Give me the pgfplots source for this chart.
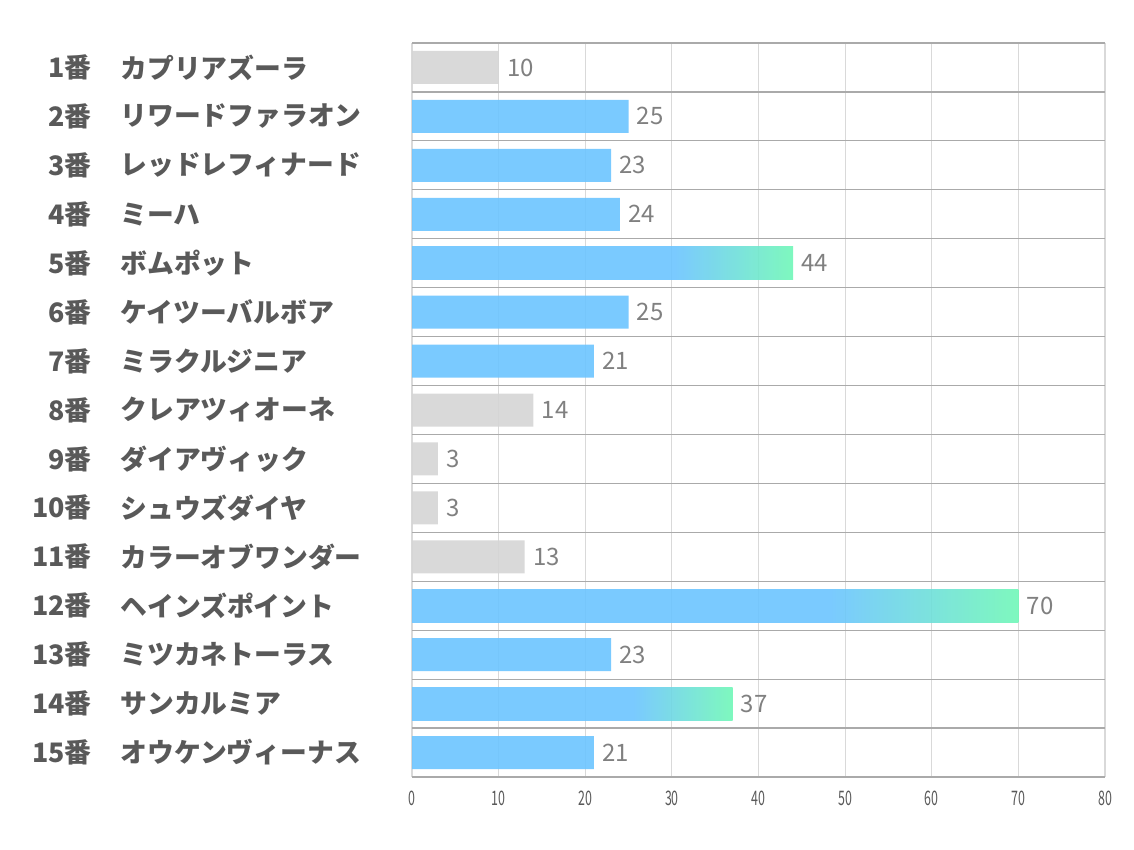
\documentclass[border=0pt]{standalone}
\usepackage{fontspec}
\setmainfont{Noto Sans CJK JP}
\usepackage{graphicx}
\usepackage{pgfplots}
\pgfplotsset{compat=1.18}
\definecolor{barblue}{RGB}{108,196,255}
\definecolor{bargreen}{RGB}{112,247,183}
\definecolor{bargrey}{RGB}{213,213,213}
\definecolor{labgrey}{RGB}{89,89,89}
\definecolor{valgrey}{RGB}{128,128,128}
\definecolor{vgrid}{RGB}{217,217,217}
\definecolor{hgrid}{RGB}{170,170,170}
\pgfdeclarehorizontalshading{bargrad}{100bp}{color(0bp)=(barblue); color(25bp)=(barblue); color(59.5bp)=(barblue); color(75bp)=(bargreen); color(100bp)=(bargreen)}
\begin{document}
\begin{tikzpicture}[x=1pt,y=1pt]
\path[use as bounding box] (0,0) rectangle (567,425);
\begin{axis}[at={(206pt,36.5pt)}, anchor=south west, scale only axis,
  width=346.5pt, height=367pt,
  xmin=0, xmax=80, ymin=0.5, ymax=15.5, y dir=reverse,
  xtick={0,10,...,80}, ytick={0.5,1.5,...,15.5}, yticklabels={},
  xmajorgrids, ymajorgrids,
  x grid style={vgrid, line width=0.6pt},
  y grid style={hgrid, line width=0.6pt},
  axis line style={draw=none}, major tick length=0pt,
  /pgf/number format/assume math mode=true,
  xticklabel style={text=labgrey, font=\fontsize{10}{11}\selectfont, yshift=-3.5pt},
  xticklabel={\scalebox{0.62}[1]{\pgfmathprintnumber{\tick}}},
  clip=false,
  xbar, bar width=16.5pt,
  nodes near coords, point meta=x,
  nodes near coords style={font=\fontsize{12}{13}\selectfont, text=valgrey, anchor=west, inner xsep=4pt, text opacity=1},
]
\addplot[xbar, bar shift=0pt, draw=none, fill=bargrey, fill opacity=0.9] coordinates {(10,1) (14,8) (3,9) (3,10) (13,11)};
\addplot[xbar, bar shift=0pt, draw=none, fill=barblue, fill opacity=0.9] coordinates {(25,2) (23,3) (24,4) (25,6) (21,7) (23,13) (21,15)};
\addplot[xbar, bar shift=0pt, draw=none, shade, shading=bargrad, fill opacity=0.9] coordinates {(44,5)};
\addplot[xbar, bar shift=0pt, draw=none, shade, shading=bargrad, fill opacity=0.9] coordinates {(70,12)};
\addplot[xbar, bar shift=0pt, draw=none, shade, shading=bargrad, fill opacity=0.9] coordinates {(37,14)};
\end{axis}
\foreach \n/\name [count=\i] in {1番/カプリアズーラ, 2番/リワードファラオン, 3番/レッドレフィナード, 4番/ミーハ, 5番/ボムポット, 6番/ケイツーバルボア, 7番/ミラクルジニア, 8番/クレアツィオーネ, 9番/ダイアヴィック, 10番/シュウズダイヤ, 11番/カラーオブワンダー, 12番/ヘインズポイント, 13番/ミツカネトーラス, 14番/サンカルミア, 15番/オウケンヴィーナス}{
  \node[anchor=east, inner sep=0pt, text=labgrey, font=\fontsize{13.4}{15}\selectfont\bfseries] at (46, {403.5-24.4667*(\i-0.5)}) {\n};
  \node[anchor=west, inner sep=0pt, text=labgrey, font=\fontsize{13.4}{15}\selectfont\bfseries] at (60, {403.5-24.4667*(\i-0.5)}) {\name};
}
\end{tikzpicture}
\end{document}
